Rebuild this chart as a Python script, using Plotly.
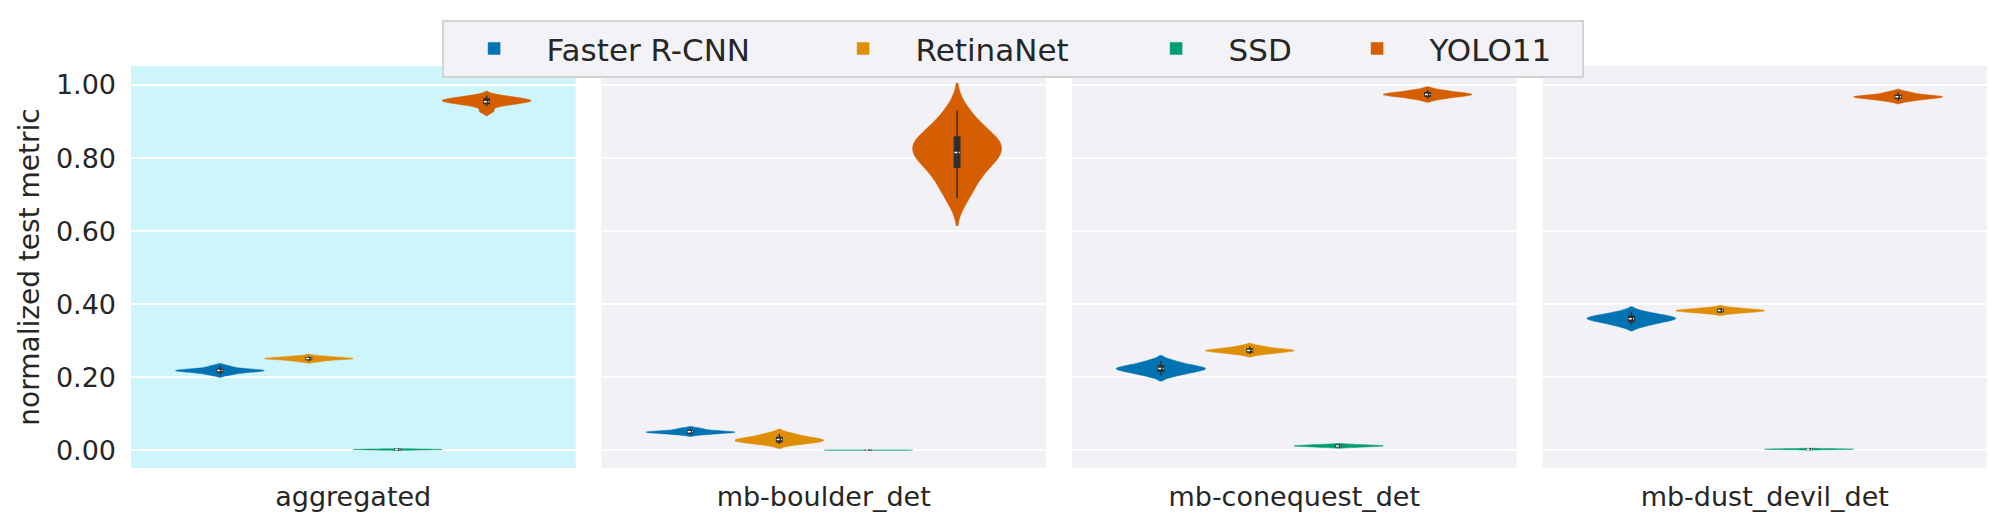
import plotly.graph_objects as go
from plotly.subplots import make_subplots

datasets = ["aggregated", "mb-boulder_det", "mb-conequest_det", "mb-dust_devil_det"]
models = ["Faster R-CNN", "RetinaNet", "SSD", "YOLO11"]
colors = ["#0173B2", "#DE8F05", "#029E73", "#D55E00"]

# normalized test metric per run
faster_rcnn = {
    "aggregated": [0.207, 0.212, 0.215, 0.217, 0.218, 0.219, 0.220, 0.222, 0.225, 0.231],
    "mb-boulder_det": [0.044, 0.047, 0.049, 0.050, 0.051, 0.052, 0.055, 0.060],
    "mb-conequest_det": [0.205, 0.212, 0.218, 0.222, 0.224, 0.226, 0.230, 0.236, 0.245],
    "mb-dust_devil_det": [0.342, 0.350, 0.356, 0.360, 0.362, 0.365, 0.370, 0.378],
}
retinanet = {
    "aggregated": [0.244, 0.248, 0.250, 0.251, 0.252, 0.253, 0.255, 0.258],
    "mb-boulder_det": [0.018, 0.022, 0.025, 0.028, 0.030, 0.033, 0.038, 0.046],
    "mb-conequest_det": [0.264, 0.268, 0.271, 0.273, 0.274, 0.276, 0.279, 0.285],
    "mb-dust_devil_det": [0.376, 0.379, 0.381, 0.383, 0.384, 0.386, 0.390],
}
ssd = {
    "aggregated": [0.001, 0.002, 0.002, 0.003, 0.003, 0.004],
    "mb-boulder_det": [0.0008, 0.0009, 0.0010, 0.0010, 0.0011, 0.0012],
    "mb-conequest_det": [0.009, 0.011, 0.012, 0.013, 0.014, 0.016],
    "mb-dust_devil_det": [0.002, 0.003, 0.003, 0.004, 0.004, 0.005],
}
yolo11 = {
    "aggregated": [0.928, 0.942, 0.948, 0.951, 0.953, 0.955, 0.957, 0.959, 0.961,
                   0.963, 0.966, 0.971],
    "mb-boulder_det": [0.69, 0.72, 0.75, 0.77, 0.79, 0.80, 0.81, 0.82, 0.83,
                       0.84, 0.85, 0.86, 0.87, 0.90, 0.93],
    "mb-conequest_det": [0.962, 0.968, 0.971, 0.973, 0.975, 0.977, 0.980, 0.986],
    "mb-dust_devil_det": [0.957, 0.962, 0.965, 0.967, 0.968, 0.970, 0.973, 0.980],
}
model_data = [faster_rcnn, retinanet, ssd, yolo11]

LEGEND_FONT = 31

fig = make_subplots(rows=1, cols=4, shared_yaxes=True, horizontal_spacing=0.014)

for col, ds in enumerate(datasets, start=1):
    for i, (name, data, color) in enumerate(zip(models, model_data, colors)):
        fig.add_trace(go.Violin(
            x=[i] * len(data[ds]),
            y=data[ds],
            name=name,
            legendgroup=name,
            showlegend=(col == 1),
            # roomier legend entries, like matplotlib's column spacing
            legendwidth=int(0.6 * LEGEND_FONT * len(name)) + 36,
            fillcolor=color,
            line=dict(color=color, width=0.5),
            opacity=1,
            width=1,
            points=False,
            scalemode="width",
            spanmode="soft",
            box=dict(visible=True, width=0.06, fillcolor="#2f2f2f",
                     line=dict(color="#2f2f2f", width=1.5)),
            meanline=dict(visible=True, color="white", width=1.5),
            hoverinfo="y"), row=1, col=col)
    fig.update_xaxes(tickvals=[1.5], ticktext=[ds], row=1, col=col)

# the page body adds an 8px offset, so margins are shifted to compensate
fig.update_layout(
    width=2000, height=528,
    violinmode="overlay",
    paper_bgcolor="white", plot_bgcolor="#F1F1F6",
    font=dict(family="DejaVu Sans", size=27, color="#262626"),
    margin=dict(l=123, r=21, t=53, b=68),
    legend=dict(orientation="h", x=0.475, xanchor="center", y=1.115, yanchor="top",
                bgcolor="rgba(242,242,247,0.95)", bordercolor="#D3D3D3", borderwidth=2,
                font=dict(size=LEGEND_FONT, color="#262626"), itemwidth=95),
)

# highlight the aggregated panel
fig.add_shape(type="rect", xref="x domain", yref="y domain", x0=0, x1=1, y0=0, y1=1,
              fillcolor="#CEF4FC", line_width=0, layer="below")

fig.update_xaxes(range=[-1, 4], showgrid=False, zeroline=False, ticks="",
                 ticklabelstandoff=10, tickfont=dict(size=27))
fig.update_yaxes(range=[-0.048, 1.052], tickvals=[0, 0.2, 0.4, 0.6, 0.8, 1.0],
                 tickformat=".2f", showgrid=True, gridcolor="white", gridwidth=2,
                 zeroline=False, ticks="", ticklabelstandoff=14, tickfont=dict(size=27))
fig.update_yaxes(title_text="normalized test metric", title_font=dict(size=28),
                 title_standoff=8, row=1, col=1)

fig.write_html("out.html")
